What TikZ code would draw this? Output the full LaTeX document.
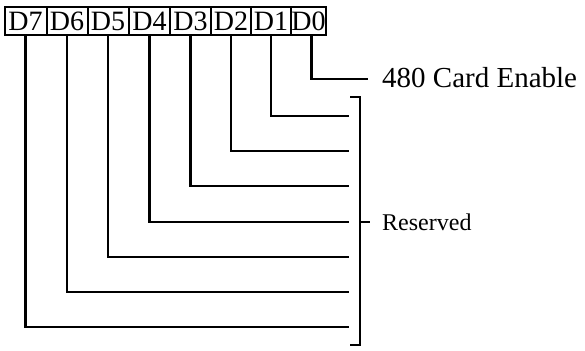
\documentclass[tikz,border=0pt]{standalone}
\usepackage{fontspec}
\setmainfont{Liberation Serif}
\begin{document}
\begin{tikzpicture}[x=1pt,y=-1pt,
  bitbox/.style={draw,line width=2pt,inner sep=0pt,minimum height=28pt,font=\fontsize{28}{28}\selectfont},
  wire/.style={line width=2.3pt},
  lbl/.style={inner sep=0pt,anchor=base west}]
\useasboundingbox (0,0) rectangle (585,350);
% bit boxes
\node[bitbox,minimum width=42pt] (d7) at (25.5,21) {D7};
\node[bitbox,minimum width=41pt] (d6) at (67,21) {D6};
\node[bitbox,minimum width=41pt] (d5) at (108,21) {D5};
\node[bitbox,minimum width=41pt] (d4) at (149.5,21) {D4};
\node[bitbox,minimum width=41pt] (d3) at (190.5,21) {D3};
\node[bitbox,minimum width=40pt] (d2) at (231,21) {D2};
\node[bitbox,minimum width=40pt] (d1) at (271,21) {D1};
\node[bitbox,minimum width=35pt] (d0) at (308.5,21) {D0};
% free ends
\coordinate (e0) at (368,79);
\coordinate (e1) at (349,116);
\coordinate (e2) at (349,151);
\coordinate (e3) at (349,186);
\coordinate (e4) at (349,222);
\coordinate (e5) at (349,257);
\coordinate (e6) at (349,292);
\coordinate (e7) at (349,327);
% connectors
\draw[wire] ([xshift=3pt]d0.south) |- (e0);
\draw[wire] (d1.south) |- (e1);
\draw[wire] (d2.south) |- (e2);
\draw[wire] (d3.south) |- (e3);
\draw[wire] (d4.south) |- (e4);
\draw[wire] (d5.south) |- (e5);
\draw[wire] (d6.south) |- (e6);
\draw[wire] (d7.south) |- (e7);
% bracket
\coordinate (bt) at (350,97);
\coordinate (bb) at (350,345);
\coordinate (bm) at (360,222);
\coordinate (bmt) at (370,222);
\draw[wire] (bt) -| (360,345) -- (bb);
\draw[wire] (bm) -- (bmt);
% labels
\node[lbl,font=\fontsize{29}{29}\selectfont] (t0) at (382,88) {480 Card Enable};
\node[lbl,font=\fontsize{24}{24}\selectfont] (tr) at (382,230) {Reserved};
\end{tikzpicture}
\end{document}
